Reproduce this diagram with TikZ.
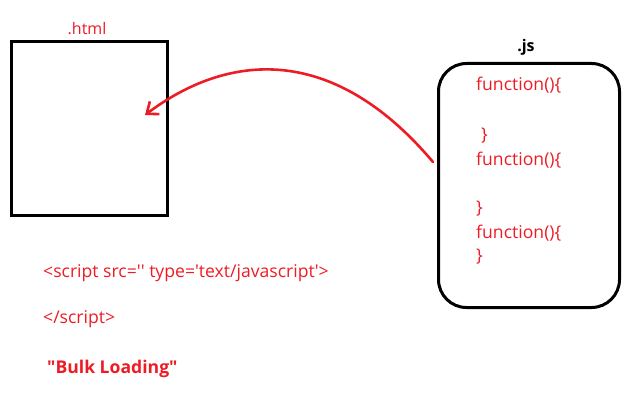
\documentclass[tikz,border=0pt]{standalone}
\usepackage{fontspec}
\setmainfont{Open Sans}
\usetikzlibrary{arrows.meta}
\definecolor{paintred}{RGB}{237,28,36}
\tikzset{htmlbox/.style={
    % The shape:
    rectangle,
    % The border:
    line width=3pt,
    draw=black,
    },
    jsbox/.style={
    rectangle,rounded corners=28pt,
    line width=3pt,
    draw=black,
    },
    code/.style={
    anchor=base west,
    inner sep=0pt,
    text=paintred,
    font=\fontsize{17.6}{20}\selectfont,
    },
    filelabel/.style={
    anchor=base,
    inner sep=0pt,
    font=\fontsize{16}{19}\selectfont,
    },
    loadarrow/.style={
    line width=2.6pt,
    draw=paintred,
    line cap=round,
    -{Straight Barb[length=10pt,width=16pt,line width=2.6pt]},
    },
}

\begin{document}
\begin{tikzpicture}[x=1pt,y=-1pt]
    \useasboundingbox (0,0) rectangle (642,409);
    \node (html)    [htmlbox,minimum width=156pt,minimum height=174pt] at (89.5,128.5) {};
    \node (htmlname)[filelabel,text=paintred] at (87,35) {.html};
    \node (js)      [jsbox,minimum width=181pt,minimum height=244pt] at (529,185.5) {};
    \node (jsname)  [filelabel,font=\fontsize{16}{19}\selectfont\bfseries] at (526,52) {.js};

    % the functions inside the .js file
    \node (fa)      [code] at (476,91)  {function()\{};
    \node (fa2)     [code] at (481,140) {\}};
    \node (fb)      [code] at (476,165) {function()\{};
    \node (fb2)     [code] at (476,213) {\}};
    \node (fc)      [code] at (476,238) {function()\{};
    \node (fc2)     [code] at (476,261) {\}};

    % the script tag below the .html file
    \node (open)    [code] at (43,277) {<script src=\textquotesingle\textquotesingle{} type=\textquotesingle text/javascript\textquotesingle>};
    \node (close)   [code] at (43,323) {</script>};
    \node (bulk)    [code,font=\fontsize{17.6}{20}\selectfont\bfseries] at (47,373) {\textquotedbl Bulk Loading\textquotedbl};

    \coordinate (from) at (433,162);
    \coordinate (into) at (145,115);
    \draw[loadarrow] (from) .. controls (330,40) and (225,55) .. (into);
  \end{tikzpicture}
\end{document}
